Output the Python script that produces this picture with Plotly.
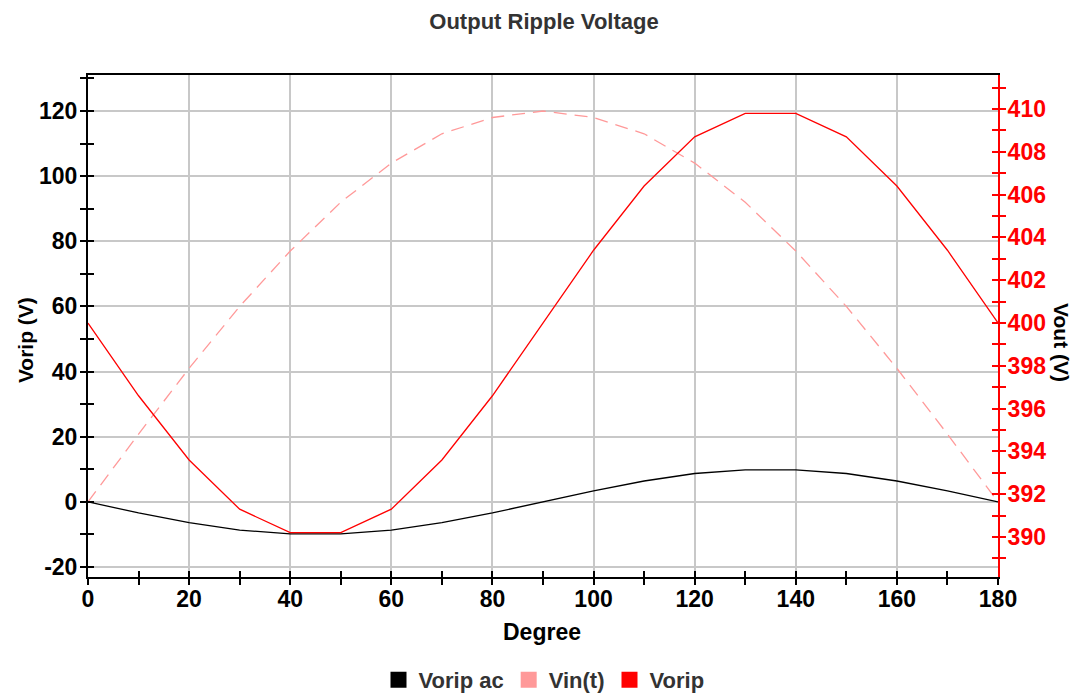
import plotly.graph_objects as go

degree = [0, 10, 20, 30, 40, 50, 60, 70, 80, 90, 100, 110, 120, 130, 140, 150, 160, 170, 180]
vorip_ac = [0, -3.4, -6.4, -8.7, -9.8, -9.8, -8.7, -6.4, -3.4, 0, 3.4, 6.4, 8.7, 9.8, 9.8, 8.7, 6.4, 3.4, 0]
vin_t = [0, 20.8, 41, 60, 77, 92, 104, 113, 118, 120, 118, 113, 104, 92, 77, 60, 41, 20.8, 0]
vorip = [400, 396.6, 393.6, 391.3, 390.2, 390.2, 391.3, 393.6, 396.6, 400, 403.4, 406.4, 408.7, 409.8, 409.8, 408.7, 406.4, 403.4, 400]

left_ticks = [-20, 0, 20, 40, 60, 80, 100, 120]
left_labels = ["-20", "0", "20", "40", "60", "80", "100", "120"]
right_ticks = [390, 392, 394, 396, 398, 400, 402, 404, 406, 408, 410]
x_ticks = [0, 20, 40, 60, 80, 100, 120, 140, 160, 180]

C_BLACK = "#000000"
C_PINK = "#FF9999"
C_RED = "#FF0000"
FONT = "Liberation Sans"

fig = go.Figure()
fig.add_trace(go.Scatter(x=degree, y=vorip_ac, mode="lines", line=dict(color=C_BLACK, width=1.3),
                         showlegend=False, yaxis="y"))
fig.add_trace(go.Scatter(x=degree, y=vin_t, mode="lines", line=dict(color=C_PINK, width=1.3, dash="13px,8px"),
                         showlegend=False, yaxis="y"))
fig.add_trace(go.Scatter(x=degree, y=vorip, mode="lines", line=dict(color=C_RED, width=1.3),
                         showlegend=False, yaxis="y2"))
# legend entries (square swatches)
for name, col in [("Vorip ac", C_BLACK), ("Vin(t)", C_PINK), ("Vorip", C_RED)]:
    fig.add_trace(go.Scatter(x=[None], y=[None], mode="markers", name=name,
                             marker=dict(symbol="square", size=24, color=col)))

LR = [-23.07, 131.05]
RR = [388.13, 411.59]
XR = [0, 180]

TICKFONT = dict(family=FONT, size=23, color="black", weight="bold")

fig.update_layout(
    width=1072, height=690,
    margin=dict(l=80, r=82, t=67, b=121),
    paper_bgcolor="white", plot_bgcolor="white",
    font=dict(family=FONT, size=22, color="black", weight="bold"),
    title=dict(text="Output Ripple Voltage", x=0.5, xanchor="center", y=1 - 13 / 690, yanchor="middle",
               yref="container", font=dict(family=FONT, size=22, color="#333333", weight="bold")),
    xaxis=dict(range=XR, tickvals=x_ticks, showgrid=True, gridcolor="#C8C8C8", gridwidth=1.5,
               showline=True, linecolor="black", linewidth=2, mirror=True,
               ticks="outside", ticklen=6, tickwidth=1.5, tickcolor="black",
               minor=dict(dtick=10, ticks="outside", ticklen=6, tickwidth=1.5, tickcolor="black", showgrid=False),
               tickfont=TICKFONT, zeroline=False, fixedrange=True, automargin=False,
               ticklabelstandoff=-6),
    yaxis=dict(range=LR, tickvals=left_ticks, ticktext=left_labels, showgrid=True, gridcolor="#C8C8C8",
               gridwidth=1.5, showline=True, linecolor="black", linewidth=2,
               ticks="outside", ticklen=6, tickwidth=1.5, tickcolor="black",
               minor=dict(dtick=10, ticks="outside", ticklen=6, tickwidth=1.5, tickcolor="black", showgrid=False),
               tickfont=TICKFONT, zeroline=False, ticklabelstandoff=-2, automargin=False),
    yaxis2=dict(range=RR, tickvals=right_ticks, overlaying="y", side="right", showgrid=False,
                showline=True, linecolor=C_RED, linewidth=2,
                ticks="outside", ticklen=6, tickwidth=1.5, tickcolor=C_RED,
                minor=dict(dtick=1, ticks="outside", ticklen=6, tickwidth=1.5, tickcolor=C_RED, showgrid=False),
                tickfont=dict(family=FONT, size=23, color=C_RED, weight="bold"),
                zeroline=False, ticklabelstandoff=-3, automargin=False),
    # inner halves of the crossing ticks
    xaxis2=dict(range=XR, overlaying="x", side="bottom", anchor="y", showgrid=False, showline=False,
                tickvals=x_ticks, ticks="inside", ticklen=6, tickwidth=1.5, tickcolor="black",
                minor=dict(dtick=10, ticks="inside", ticklen=6, tickwidth=1.5, tickcolor="black"),
                showticklabels=False, zeroline=False),
    yaxis3=dict(range=LR, overlaying="y", side="left", showgrid=False, showline=False,
                tickvals=left_ticks, ticks="inside", ticklen=6, tickwidth=1.5, tickcolor="black",
                minor=dict(dtick=10, ticks="inside", ticklen=6, tickwidth=1.5, tickcolor="black"),
                showticklabels=False, zeroline=False),
    yaxis4=dict(range=RR, overlaying="y", side="right", showgrid=False, showline=False,
                tickvals=right_ticks, ticks="inside", ticklen=6, tickwidth=1.5, tickcolor=C_RED,
                minor=dict(dtick=1, ticks="inside", ticklen=6, tickwidth=1.5, tickcolor=C_RED),
                showticklabels=False, zeroline=False),
    legend=dict(orientation="h", x=0.5, xanchor="center", xref="container",
                y=1 - 672 / 690, yanchor="middle", yref="container",
                font=dict(family=FONT, size=22, color="#333333", weight="bold"),
                itemwidth=30, tracegroupgap=0, bgcolor="rgba(0,0,0,0)"),
    annotations=[
        dict(text="Degree", xref="paper", yref="paper", x=0.4989, y=-0.1096, showarrow=False,
             xanchor="center", yanchor="middle", font=dict(family=FONT, size=23, color="black", weight="bold")),
        dict(text="Vorip (V)", xref="paper", yref="paper", x=-0.0692, y=0.472, showarrow=False, textangle=-90,
             xanchor="center", yanchor="middle", font=dict(family=FONT, size=21, color="black", weight="bold")),
        dict(text="Vout (V)", xref="paper", yref="paper", x=1.0703, y=0.466, showarrow=False, textangle=90,
             xanchor="center", yanchor="middle", font=dict(family=FONT, size=21, color="black", weight="bold")),
    ],
)
# dummy traces to activate helper axes
fig.add_trace(go.Scatter(x=[None], y=[None], xaxis="x2", yaxis="y", showlegend=False, hoverinfo="skip"))
fig.add_trace(go.Scatter(x=[None], y=[None], xaxis="x", yaxis="y3", showlegend=False, hoverinfo="skip"))
fig.add_trace(go.Scatter(x=[None], y=[None], xaxis="x", yaxis="y4", showlegend=False, hoverinfo="skip"))

fig.write_html("out.html")
